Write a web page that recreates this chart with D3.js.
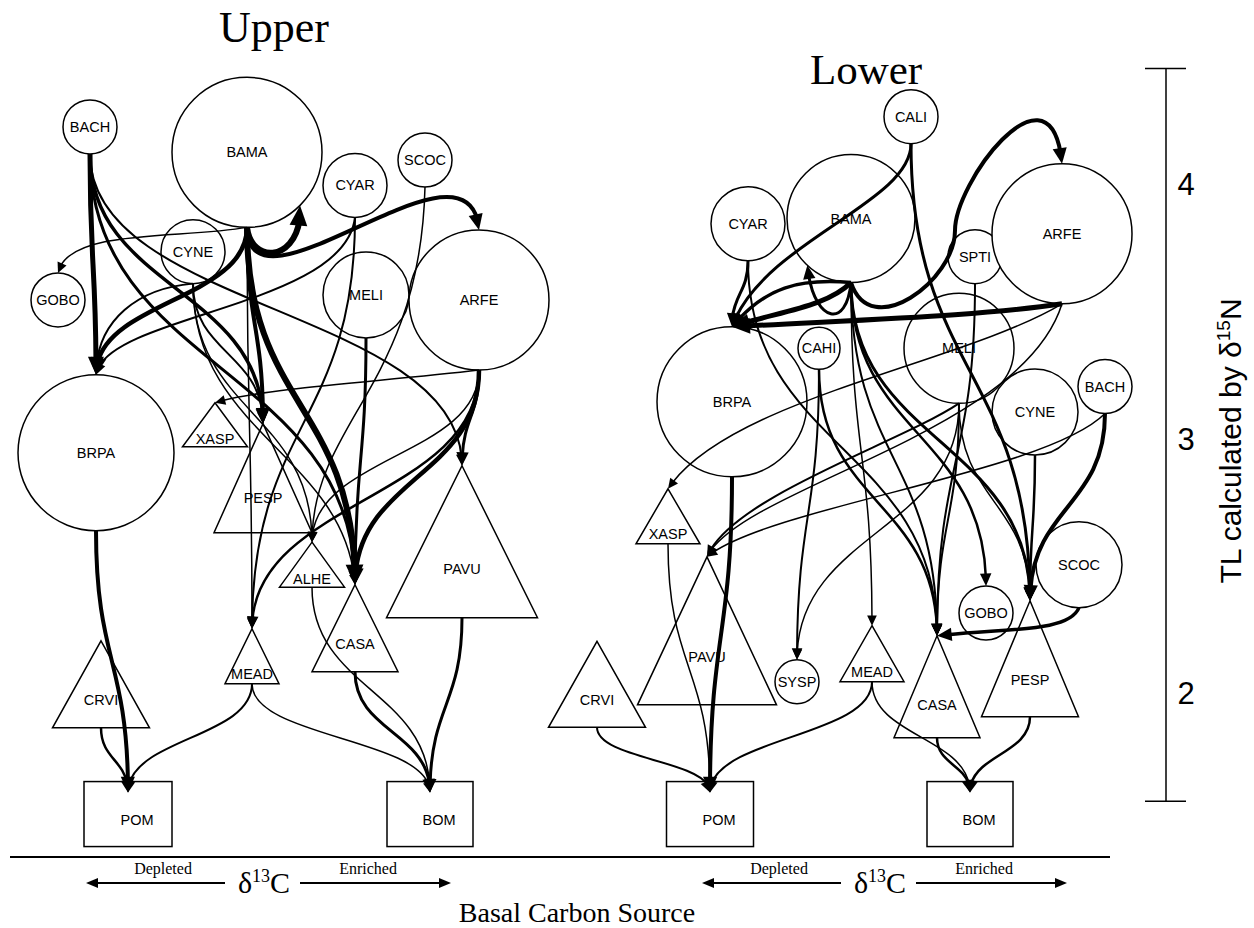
<!DOCTYPE html>
<html>
<head>
<meta charset="utf-8">
<script src="https://cdn.jsdelivr.net/npm/d3@7"></script>
<style>
  body { margin: 0; background: #fff; }
</style>
</head>
<body>
<div id="web"></div>
<script>
// ---- Upper site: nodes (x = relative d13C position, tl = trophic level)
var upperNames  = ["BACH","BAMA","CYNE","GOBO","CYAR","SCOC","MELI","ARFE","BRPA","XASP","PESP","ALHE","CASA","PAVU","MEAD","CRVI","POM","BOM"];
var upperShapes = ["c","c","c","c","c","c","c","c","c","t","t","t","t","t","t","t","b","b"];
var upperX      = [80,237,183,48,345,415,356,469,86,205,253,302,345,452,242,91,118,420];
var upperTL     = [4.24,4.14,3.75,3.56,4.01,4.11,3.58,3.56,2.96,3.07,2.86,2.52,2.27,2.61,2.16,2.05,1.54,1.54];
var upperW      = [54,150,64,54,64,54,86,140,156,65,98,65,86,151,54,97,88,86];
var upperH      = [54,150,64,54,64,54,86,140,156,44,109,45,87,152,55,87,65,65];

// predator -> prey, feeding strength
var upperLinks = [
  ["BACH","BRPA",5], ["BACH","PESP",3.5], ["BACH","CASA",3], ["BACH","PAVU",2],
  ["BAMA","BAMA",6], ["BAMA","ARFE",4], ["BAMA","GOBO",1.5], ["BAMA","BRPA",4.5],
  ["BAMA","PESP",4], ["BAMA","MEAD",1.5], ["BAMA","CASA",6],
  ["CYNE","BRPA",2], ["CYNE","PESP",2], ["CYNE","ALHE",1.5], ["CYNE","CASA",1.5],
  ["CYAR","BRPA",2], ["CYAR","MEAD",2], ["SCOC","ALHE",1.5], ["MELI","CASA",3],
  ["ARFE","XASP",1.5], ["ARFE","PAVU",3], ["ARFE","CASA",4.5], ["ARFE","MEAD",2.5], ["ARFE","ALHE",1.5],
  ["BRPA","POM",4], ["CRVI","POM",2.5], ["MEAD","POM",2], ["MEAD","BOM",1.5],
  ["ALHE","BOM",1.5], ["CASA","BOM",3], ["PAVU","BOM",3]
];

// ---- Lower site
var lowerNames  = ["CALI","CYAR","BAMA","SPTI","ARFE","CAHI","MELI","BRPA","CYNE","BACH","SCOC","GOBO","SYSP","XASP","PAVU","CRVI","MEAD","CASA","PESP","POM","BOM"];
var lowerShapes = ["c","c","c","c","c","c","c","c","c","c","c","c","c","t","t","t","t","t","t","b","b"];
var lowerX      = [371,208,311,435,522,279,419,192,495,565,539,446,257,128,167,57,332,397,490,170,430];
var lowerTL     = [4.28,3.86,3.88,3.73,3.82,3.37,3.37,3.16,3.12,3.22,2.52,2.33,2.06,2.71,2.26,2.05,2.17,2.04,2.15,1.54,1.54];
var lowerW      = [54,74,128,54,140,42,110,150,86,54,86,54,44,64,139,97,64,86,97,87,86];
var lowerH      = [54,74,128,54,140,42,110,150,86,54,86,54,44,55,148,86,56,102,116,65,65];

var lowerLinks = [
  ["CALI","BRPA",3], ["CALI","PESP",3], ["BAMA","ARFE",4], ["BAMA","BAMA",3],
  ["BAMA","BRPA",5], ["BAMA","BRPA",3.5], ["ARFE","BRPA",5], ["CYAR","BRPA",3], ["CYAR","CASA",2],
  ["BAMA","MEAD",1.5], ["BAMA","GOBO",2.5], ["BAMA","PESP",3], ["BAMA","CASA",2],
  ["CAHI","SYSP",2], ["CAHI","CASA",2.5], ["MELI","SYSP",1.5], ["MELI","PAVU",2],
  ["MELI","CASA",2], ["MELI","PESP",1.5], ["ARFE","PAVU",1.5], ["ARFE","XASP",1.5],
  ["SPTI","CASA",2], ["CYNE","PESP",2.5], ["BACH","PESP",4], ["BACH","PAVU",1.5],
  ["SCOC","CASA",3.5], ["XASP","POM",1.5], ["BRPA","POM",4], ["CRVI","POM",2],
  ["MEAD","POM",2], ["MEAD","BOM",1.5], ["CASA","BOM",2.5], ["PESP","BOM",2.5]
];

var tlTicks = [2, 3, 4];

// curve shapes for links that are not simple vertical connectors (control offsets, px)
var upperBends = {
  "BAMA>BAMA": {c1: [5, 40], c2: [3, 55], ang: 45},
  "BAMA>ARFE": {c1: [3, 102], c2: [-9, -110]},
  "BAMA>GOBO": {c1: [-70, 12], c2: [10, -45]},
  "CYNE>BRPA": {c1: [-60, 5], c2: [0, -50]},
  "CYNE>CASA": {c1: [0, 150], c2: [-10, -130]},
  "CYAR>BRPA": {c1: [-10, 90], c2: [10, -60]},
  "SCOC>ALHE": {c1: [-5, 200], c2: [0, -120]},
  "ARFE>XASP": {c1: [-100, 12], c2: [50, -15]}
};
var lowerBends = {
  "BAMA>BAMA": {c1: [-5, 50], c2: [5, 55], ang: 133},
  "BAMA>ARFE": {c1: [20, 60], mid: [104, -52], tan: [0, -50], c2: [-10, -110]},
  "CALI>BRPA": {c1: [0, 60], c2: [30, -85]},
  "BAMA>BRPA": {c1: [-25, 25], c2: [45, -15]},
  "BAMA>BRPA#2": {c1: [-60, -5], c2: [30, -35]},
  "ARFE>BRPA": {c1: [-80, 12], c2: [150, -8]},
  "MELI>PAVU": {c1: [-60, 40], c2: [25, -60]},
  "ARFE>PAVU": {c1: [-40, 130], c2: [35, -70]},
  "ARFE>XASP": {c1: [-100, 60], c2: [60, -90]},
  "BACH>PAVU": {c1: [-60, 60], c2: [60, -50]},
  "SCOC>CASA": {c1: [-10, 25], c2: [70, -8]}
};

var svgWidth = 1254, svgHeight = 928;
var svg = d3.select("#web").append("svg")
    .attr("width", svgWidth)
    .attr("height", svgHeight)
    .style("font-family", "'Liberation Sans', Arial, sans-serif");

// TL scale shared by both panels
var y = d3.scaleLinear().domain([2, 4]).range([697, 188]);
var xUpper = d3.scaleLinear().domain([0, 560]).range([10, 570]);
var xLower = d3.scaleLinear().domain([0, 560]).range([540, 1100]);
var size = d3.scaleLinear().domain([0, 100]).range([0, 100]);

function buildNodes(names, shapes, xs, tls, ws, hs, xScale) {
    var nodes = {};
    names.forEach(function(n, i) {
        nodes[n] = {name: n, shape: shapes[i], cx: xScale(xs[i]), cy: y(tls[i]),
                    w: size(ws[i]), h: size(hs[i])};
    });
    return nodes;
}

function drawPanel(nodes, links, bends) {
    var g = svg.append("g");
    var list = Object.values(nodes);

    //Node shapes
    list.forEach(function(n) {
        if (n.shape === "c") {
            g.append("circle").attr("cx", n.cx).attr("cy", n.cy).attr("r", n.w / 2)
                .attr("fill", "#fff").attr("stroke", "#000").attr("stroke-width", 1.5);
        } else if (n.shape === "t") {
            g.append("path")
                .attr("d", "M" + n.cx + "," + (n.cy - n.h / 2) + "L" + (n.cx + n.w / 2) + "," + (n.cy + n.h / 2) +
                      "L" + (n.cx - n.w / 2) + "," + (n.cy + n.h / 2) + "Z")
                .attr("fill", "#fff").attr("stroke", "#000").attr("stroke-width", 1.5);
        } else {
            g.append("rect").attr("x", n.cx - n.w / 2).attr("y", n.cy - n.h / 2)
                .attr("width", n.w).attr("height", n.h)
                .attr("fill", "#fff").attr("stroke", "#000").attr("stroke-width", 1.5);
        }
    });

    //Feeding links
    var seen = {};
    links.forEach(function(l) {
        var key = l[0] + ">" + l[1];
        seen[key] = (seen[key] || 0) + 1;
        if (seen[key] > 1) key += "#" + seen[key];
        var s = nodes[l[0]], t = nodes[l[1]], w = l[2];
        var b = bends[key];
        var S = [s.cx, s.cy + s.h / 2], T;
        if (b && b.ang != null) {
            var a = b.ang * Math.PI / 180;
            T = [t.cx + t.w / 2 * Math.cos(a), t.cy + t.h / 2 * Math.sin(a)];
        } else if (t.shape === "b") {
            T = [t.cx, t.cy - t.h / 2 + 11];
        } else {
            T = [t.cx, t.cy - t.h / 2];
        }
        var p = d3.path();
        p.moveTo(S[0], S[1]);
        if (b && b.mid) {
            var M = [S[0] + b.mid[0], S[1] + b.mid[1]];
            p.bezierCurveTo(S[0] + b.c1[0], S[1] + b.c1[1], M[0] - b.tan[0], M[1] - b.tan[1], M[0], M[1]);
            p.bezierCurveTo(M[0] + b.tan[0], M[1] + b.tan[1], T[0] + b.c2[0], T[1] + b.c2[1], T[0], T[1]);
        } else if (b) {
            p.bezierCurveTo(S[0] + b.c1[0], S[1] + b.c1[1], T[0] + b.c2[0], T[1] + b.c2[1], T[0], T[1]);
        } else {
            var m = (T[1] - S[1]) / 2;
            p.bezierCurveTo(S[0], S[1] + m, T[0], T[1] - m, T[0], T[1]);
        }
        var path = g.append("path").attr("d", p.toString())
            .attr("fill", "none").attr("stroke", "#000").attr("stroke-width", w);
        var total = path.node().getTotalLength();
        var len = 7 + 2.2 * w, hw = 3.5 + 0.9 * w;
        var q = path.node().getPointAtLength(Math.max(0, total - len));
        var dx = T[0] - q.x, dy = T[1] - q.y, d = Math.sqrt(dx * dx + dy * dy) || 1;
        dx /= d; dy /= d;
        path.attr("stroke-dasharray", (total - len * 0.7) + " " + (total + 50));
        var bx = T[0] - dx * len, by = T[1] - dy * len;
        g.append("path")
            .attr("d", "M" + T[0] + "," + T[1] + "L" + (bx - dy * hw) + "," + (by + dx * hw) +
                  "L" + (bx + dy * hw) + "," + (by - dx * hw) + "Z")
            .attr("fill", "#000");
    });

    //Node labels
    list.forEach(function(n) {
        var lx = n.cx, ly = n.cy;
        if (n.shape === "t") ly = n.cy - n.h / 2 + n.h * (n.h < 60 ? 0.82 : 0.68);
        if (n.shape === "b") { lx = n.cx + 9; ly = n.cy + 6; }
        g.append("text").attr("x", lx).attr("y", ly + 5)
            .attr("text-anchor", "middle").attr("font-size", 14.5)
            .text(n.name);
    });
}

drawPanel(buildNodes(upperNames, upperShapes, upperX, upperTL, upperW, upperH, xUpper), upperLinks, upperBends);
drawPanel(buildNodes(lowerNames, lowerShapes, lowerX, lowerTL, lowerW, lowerH, xLower), lowerLinks, lowerBends);

// Panel titles
svg.append("text").attr("x", 274).attr("y", 42).attr("text-anchor", "middle")
    .attr("font-family", "'Liberation Serif', 'Times New Roman', serif").attr("font-size", 44).text("Upper");
svg.append("text").attr("x", 866).attr("y", 84).attr("text-anchor", "middle")
    .attr("font-family", "'Liberation Serif', 'Times New Roman', serif").attr("font-size", 43).text("Lower");

// TL axis on the right
var axisX = 1166;
var axisTop = y(4.47), axisBottom = y(1.59);
svg.append("line").attr("x1", axisX).attr("x2", axisX).attr("y1", axisTop).attr("y2", axisBottom)
    .attr("stroke", "#000").attr("stroke-width", 1.5);
[axisTop, axisBottom].forEach(function(v) {
    svg.append("line").attr("x1", axisX - 21).attr("x2", axisX + 20).attr("y1", v).attr("y2", v)
        .attr("stroke", "#000").attr("stroke-width", 1.5);
});
tlTicks.forEach(function(t) {
    svg.append("text").attr("x", 1186).attr("y", y(t) + 7).attr("text-anchor", "middle")
        .attr("font-size", 31).text(t);
});
var tlLabel = svg.append("text").attr("transform", "translate(1241, 441) rotate(-90)")
    .attr("text-anchor", "middle").attr("font-size", 30);
tlLabel.append("tspan").text("TL calculated by \u03b4");
tlLabel.append("tspan").attr("dy", -11).attr("font-size", 19).text("15");
tlLabel.append("tspan").attr("dy", 11).text("N");

// Baseline and carbon-source guide
svg.append("line").attr("x1", 10).attr("x2", 1110).attr("y1", 857).attr("y2", 857)
    .attr("stroke", "#000").attr("stroke-width", 2);

function carbonGuide(cx) {
    var g = svg.append("g").attr("font-family", "'Liberation Serif', 'Times New Roman', serif");
    var t = g.append("text").attr("x", cx).attr("y", 893).attr("text-anchor", "middle").attr("font-size", 30);
    t.append("tspan").text("\u03b4");
    t.append("tspan").attr("dy", -11).attr("font-size", 18).text("13");
    t.append("tspan").attr("dy", 11).text("C");
    var ay = 883;
    g.append("line").attr("x1", cx - 39).attr("x2", cx - 170).attr("y1", ay).attr("y2", ay)
        .attr("stroke", "#000").attr("stroke-width", 2);
    g.append("path").attr("d", "M" + (cx - 178) + "," + ay + "l12,-5l0,10z");
    g.append("line").attr("x1", cx + 36).attr("x2", cx + 179).attr("y1", ay).attr("y2", ay)
        .attr("stroke", "#000").attr("stroke-width", 2);
    g.append("path").attr("d", "M" + (cx + 187) + "," + ay + "l-12,-5l0,10z");
    g.append("text").attr("x", cx - 101).attr("y", 874).attr("text-anchor", "middle").attr("font-size", 16).text("Depleted");
    g.append("text").attr("x", cx + 104).attr("y", 874).attr("text-anchor", "middle").attr("font-size", 16).text("Enriched");
}
carbonGuide(264);
carbonGuide(880);

svg.append("text").attr("x", 577).attr("y", 922).attr("text-anchor", "middle")
    .attr("font-family", "'Liberation Serif', 'Times New Roman', serif").attr("font-size", 28)
    .text("Basal Carbon Source");
</script>
</body>
</html>
